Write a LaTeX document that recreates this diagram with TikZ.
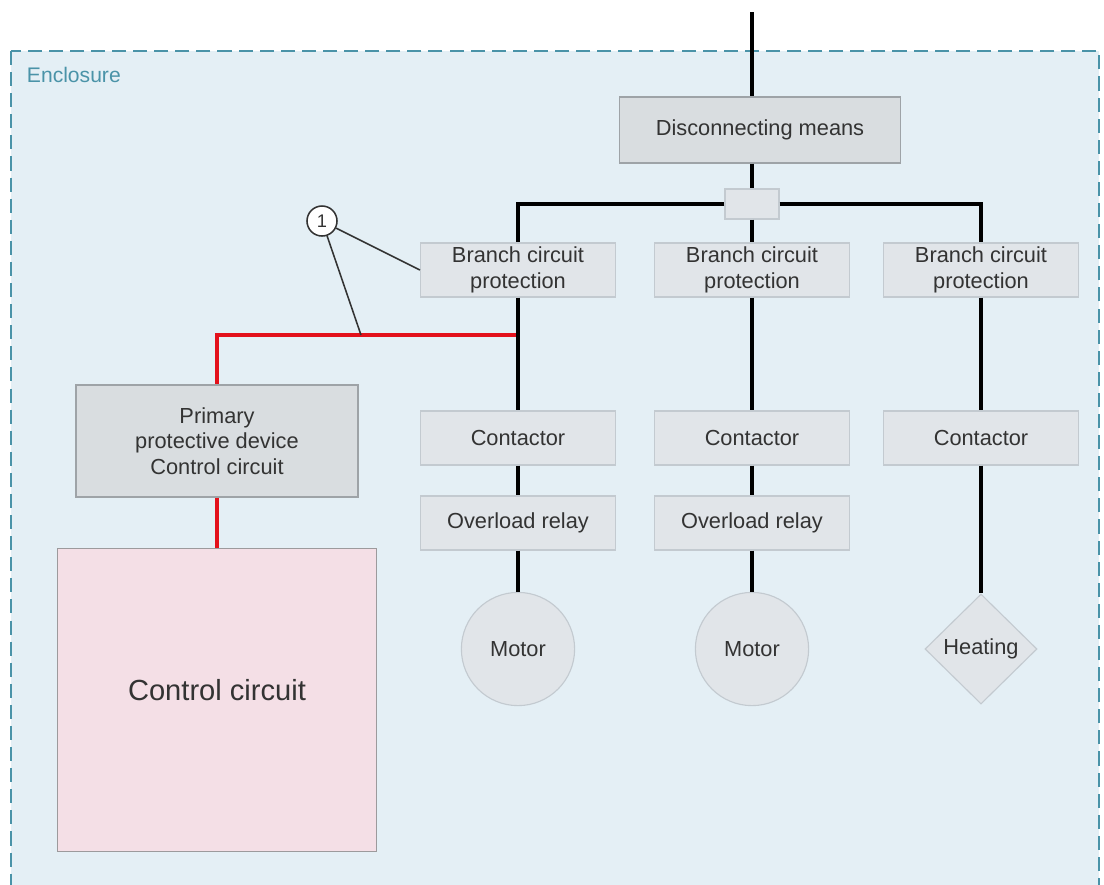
\documentclass[tikz,border=0pt]{standalone}
\usepackage{fontspec}
\setmainfont{Liberation Sans}
\usetikzlibrary{shapes.geometric}

\definecolor{encfill}{HTML}{E4EFF5}
\definecolor{encline}{HTML}{4A93A8}
\definecolor{boxfill}{HTML}{E1E5E9}
\definecolor{boxline}{HTML}{C3CAD0}
\definecolor{darkfill}{HTML}{D9DDE0}
\definecolor{darkline}{HTML}{9EA3A7}
\definecolor{ccfill}{HTML}{F4DFE6}
\definecolor{ccline}{HTML}{9C9A9C}
\definecolor{txt}{HTML}{333333}
\definecolor{wirered}{HTML}{E3111B}

\tikzset{
  part/.style={draw=boxline, fill=boxfill, line width=0.8pt, text=txt, align=center,
    minimum width=4.875cm, minimum height=1.35cm, inner sep=0pt,
    font=\fontsize{15.5}{18.3}\selectfont},
  mainpart/.style={part, draw=darkline, fill=darkfill},
  motor/.style={part, circle, minimum size=2.83cm},
  heater/.style={part, diamond, minimum width=2.8cm, minimum height=2.75cm},
  wire/.style={line width=3.4pt, black},
  redwire/.style={line width=3.4pt, wirered},
  leader/.style={line width=1.1pt, txt},
}

\begin{document}
\begin{tikzpicture}[x=0.025cm, y=-0.025cm]
        \useasboundingbox (0,0) rectangle (1104,884);
        \clip (0,0) rectangle (1104,884);
        % enclosure
        \draw[encline, fill=encfill, line width=1.8pt, dash pattern=on 10pt off 5pt] (11,51) rectangle (1099,940);
        \node at (22,75) (enc) [anchor=west, text=encline, font=\fontsize{15}{18}\selectfont] {Enclosure};
        % supply side
        \coordinate (feed) at (752,12);
        \node at (760,130) (dm) [mainpart, minimum width=7.025cm, minimum height=1.65cm] {Disconnecting means};
        \node at (752,204) (jn) [part, minimum width=1.35cm, minimum height=0.75cm] {};
        % branches
        \node at (518,270) (bcp1) [part] {Branch circuit\\protection};
        \node at (752,270) (bcp2) [part] {Branch circuit\\protection};
        \node at (981,270) (bcp3) [part] {Branch circuit\\protection};
        \node at (518,438) (con1) [part] {Contactor};
        \node at (752,438) (con2) [part] {Contactor};
        \node at (981,438) (con3) [part] {Contactor};
        \node at (518,523) (olr1) [part] {Overload relay};
        \node at (752,523) (olr2) [part] {Overload relay};
        \node at (518,649) (mot1) [motor] {Motor};
        \node at (752,649) (mot2) [motor] {Motor};
        \node at (981,649) (heat) [heater] {Heating};
        % control circuit
        \node at (217,441) (ppd) [mainpart, minimum width=7.05cm, minimum height=2.8cm] {Primary\\protective device\\Control circuit};
        \node at (217,700) (cc) [part, draw=ccline, fill=ccfill, minimum width=7.975cm, minimum height=7.575cm, font=\fontsize{20.7}{24}\selectfont] {Control circuit\\[-10pt]};
        \coordinate (tap) at (518,335);
        \coordinate (redpt) at (361,335);
        \draw[redwire] (tap) -| (ppd.north);
        \draw[redwire] (ppd.south) -- (cc.north);
        % power wiring
        \draw[wire] (feed) -- (dm.north -| feed);
        \draw[wire] (dm.south -| jn) -- (jn.north);
        \draw[wire] (jn.west) -| (bcp1.north);
        \draw[wire] (jn.south) -- (bcp2.north);
        \draw[wire] (jn.east) -| (bcp3.north);
        \draw[wire] (bcp1) -- (con1);
        \draw[wire] (bcp2) -- (con2);
        \draw[wire] (bcp3) -- (con3);
        \draw[wire] (con1) -- (olr1);
        \draw[wire] (con2) -- (olr2);
        \draw[wire] (con3) -- (heat);
        \draw[wire] (olr1) -- (mot1);
        \draw[wire] (olr2) -- (mot2);
        % callout
        \node at (322,221) (c1) [circle, draw=txt, fill=white, line width=1.1pt, inner sep=0pt, minimum size=0.75cm, text=txt, font=\fontsize{13}{13}\selectfont] {1};
        \draw[leader] (c1) -- (bcp1.west);
        \draw[leader] (c1) -- (redpt);
\end{tikzpicture}
\end{document}
